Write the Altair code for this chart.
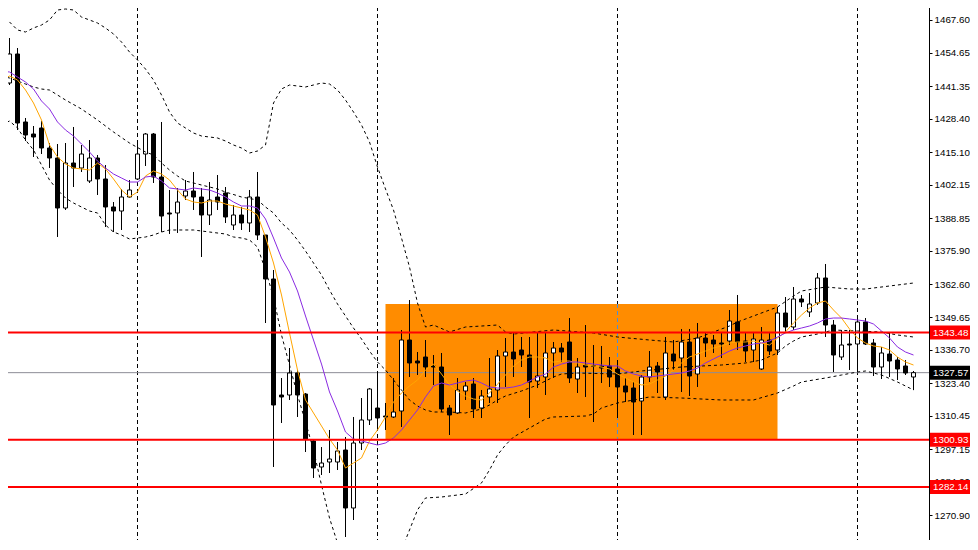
import altair as alt
import pandas as pd

# ---------------- data ----------------
bar_index = list(range(115))

opens = [1442.19, 1442.58, 1454.10, 1427.10, 1422.33, 1424.72, 1416.78, 1412.80, 1392.95, 1410.82,
         1408.83, 1403.67, 1412.80, 1404.47, 1393.35, 1391.76, 1397.32, 1404.47, 1414.39, 1422.33,
         1405.26, 1390.97, 1390.97, 1397.72, 1399.70, 1397.32, 1390.17, 1397.32, 1398.91, 1386.20,
         1390.17, 1387.00, 1397.32, 1382.23, 1364.76, 1318.70, 1318.70, 1327.44, 1319.10, 1300.44,
         1290.12, 1292.10, 1292.10, 1296.86, 1273.84, 1299.64, 1308.78, 1313.54, 1310.37, 1309.97,
         1312.35, 1340.54, 1332.20, 1333.79, 1330.22, 1329.82, 1313.54, 1311.56, 1320.29, 1323.07,
         1313.54, 1317.91, 1320.69, 1334.19, 1335.77, 1336.57, 1334.58, 1324.26, 1325.85, 1335.38,
         1337.36, 1339.75, 1325.05, 1330.61, 1330.30, 1330.22, 1330.22, 1329.03, 1322.28, 1321.48,
         1316.32, 1325.85, 1330.22, 1317.91, 1334.98, 1333.39, 1339.75, 1327.04, 1341.33, 1340.54,
         1339.35, 1340.14, 1347.69, 1340.14, 1336.57, 1329.03, 1340.54, 1336.57, 1351.26, 1345.70,
         1356.82, 1351.66, 1355.23, 1365.16, 1346.49, 1333.79, 1338.95, 1338.95, 1347.69, 1339.35,
         1329.82, 1334.98, 1332.60, 1330.22, 1325.85]

highs = [1450.92, 1460.45, 1456.48, 1428.69, 1425.51, 1427.50, 1418.76, 1418.36, 1418.76, 1425.12,
         1417.97, 1419.95, 1414.00, 1410.02, 1395.33, 1400.50, 1404.07, 1419.16, 1422.73, 1422.73,
         1427.10, 1400.10, 1400.89, 1404.07, 1407.25, 1400.89, 1403.27, 1406.05, 1401.29, 1394.14,
         1393.35, 1400.10, 1407.25, 1382.23, 1368.33, 1325.45, 1337.36, 1328.63, 1319.50, 1300.83,
         1298.05, 1304.81, 1300.04, 1302.03, 1309.97, 1317.51, 1321.48, 1328.23, 1315.53, 1325.45,
         1344.51, 1356.42, 1335.77, 1340.54, 1334.58, 1335.38, 1314.73, 1325.45, 1323.86, 1325.45,
         1320.69, 1333.39, 1336.57, 1341.33, 1343.32, 1341.73, 1341.73, 1343.32, 1343.32, 1339.75,
         1339.35, 1349.27, 1333.39, 1346.49, 1338.55, 1338.16, 1333.79, 1332.60, 1325.45, 1323.86,
         1326.64, 1336.17, 1331.80, 1341.73, 1340.54, 1344.91, 1344.91, 1347.29, 1343.32, 1342.53,
         1343.32, 1352.45, 1358.41, 1343.32, 1343.72, 1345.70, 1343.72, 1353.64, 1357.61, 1361.58,
         1358.41, 1359.20, 1367.14, 1370.72, 1348.48, 1344.51, 1344.51, 1349.27, 1349.27, 1340.94,
         1337.76, 1343.32, 1333.79, 1332.60, 1328.23]

lows = [1437.82, 1441.79, 1423.92, 1419.56, 1413.20, 1414.39, 1408.83, 1381.44, 1392.16, 1401.29,
        1407.25, 1402.88, 1398.12, 1385.41, 1383.42, 1384.22, 1396.92, 1404.07, 1409.63, 1402.88,
        1383.42, 1382.63, 1383.03, 1396.13, 1392.16, 1373.50, 1386.20, 1392.16, 1387.00, 1384.22,
        1384.22, 1383.42, 1380.25, 1347.29, 1290.12, 1307.59, 1316.72, 1309.97, 1296.07, 1285.75,
        1286.94, 1287.73, 1288.92, 1262.32, 1269.07, 1296.86, 1306.79, 1304.81, 1304.81, 1309.57,
        1306.00, 1325.85, 1326.64, 1325.85, 1322.67, 1311.95, 1302.82, 1311.16, 1316.72, 1309.57,
        1309.57, 1315.53, 1315.53, 1321.88, 1325.85, 1329.82, 1309.57, 1321.48, 1318.70, 1325.45,
        1331.80, 1323.47, 1319.50, 1317.91, 1307.98, 1323.47, 1321.88, 1309.57, 1315.93, 1302.82,
        1302.82, 1323.86, 1319.50, 1316.72, 1328.63, 1319.90, 1318.31, 1321.88, 1333.79, 1335.38,
        1333.39, 1338.55, 1336.57, 1331.80, 1331.80, 1328.63, 1334.58, 1334.58, 1343.72, 1344.51,
        1353.64, 1349.67, 1354.44, 1341.73, 1327.83, 1332.60, 1328.63, 1327.83, 1338.55, 1326.25,
        1325.05, 1325.85, 1324.66, 1326.64, 1320.69]

closes = [1443.78, 1454.10, 1426.70, 1421.94, 1421.14, 1416.78, 1412.80, 1392.95, 1410.82, 1408.83,
          1414.39, 1412.80, 1404.47, 1393.35, 1391.76, 1397.32, 1400.10, 1414.39, 1422.33, 1405.26,
          1389.77, 1390.57, 1395.33, 1399.70, 1397.32, 1390.17, 1396.13, 1395.33, 1389.38, 1390.17,
          1387.00, 1397.32, 1382.23, 1364.76, 1314.73, 1317.91, 1327.44, 1318.70, 1301.23, 1289.72,
          1291.70, 1293.29, 1296.47, 1273.84, 1299.64, 1308.78, 1321.09, 1309.57, 1309.97, 1311.95,
          1340.54, 1331.41, 1331.41, 1329.82, 1329.82, 1313.15, 1310.77, 1320.69, 1322.28, 1313.15,
          1318.31, 1321.09, 1334.19, 1335.77, 1333.00, 1334.58, 1323.86, 1326.25, 1335.38, 1337.36,
          1335.77, 1325.45, 1329.82, 1329.82, 1330.10, 1329.42, 1325.85, 1321.88, 1319.90, 1315.93,
          1325.85, 1329.82, 1327.83, 1335.38, 1332.20, 1339.75, 1326.25, 1341.33, 1339.35, 1338.95,
          1338.95, 1348.08, 1339.75, 1336.17, 1340.94, 1340.54, 1336.17, 1351.26, 1345.70, 1356.82,
          1355.63, 1354.83, 1365.16, 1346.49, 1334.58, 1338.55, 1338.55, 1347.69, 1338.95, 1329.82,
          1335.38, 1332.20, 1329.03, 1327.44, 1327.57]

ma_fast = [1443.78, 1445.36, 1443.78, 1439.80, 1434.64, 1427.89, 1417.97, 1413.20, 1410.42, 1408.83,
           1408.44, 1408.04, 1410.82, 1408.44, 1404.47, 1400.10, 1397.32, 1399.30, 1405.66, 1407.64,
           1406.45, 1404.07, 1400.10, 1396.53, 1395.33, 1394.94, 1395.73, 1395.73, 1394.54, 1393.75,
           1392.95, 1392.16, 1390.17, 1381.44, 1371.11, 1358.41, 1343.32, 1328.63, 1316.72, 1311.56,
           1306.40, 1301.23, 1296.86, 1289.72, 1291.70, 1293.69, 1300.44, 1304.81, 1309.97, 1315.93,
           1319.50, 1322.28, 1324.66, 1328.63, 1330.99, 1327.04, 1322.67, 1320.29, 1318.31, 1317.12,
           1316.72, 1319.50, 1322.97, 1326.64, 1330.22, 1332.60, 1333.79, 1333.79, 1333.39, 1331.80,
           1332.20, 1332.20, 1331.41, 1330.61, 1330.22, 1329.82, 1329.03, 1327.04, 1325.45, 1323.86,
           1322.67, 1323.07, 1324.66, 1326.25, 1328.63, 1331.41, 1333.79, 1334.98, 1336.17, 1337.36,
           1338.16, 1339.35, 1339.75, 1339.75, 1340.14, 1339.35, 1338.55, 1341.33, 1343.72, 1347.29,
           1350.46, 1353.24, 1355.23, 1356.03, 1352.45, 1349.27, 1344.91, 1341.33, 1339.35, 1338.16,
           1337.76, 1336.57, 1333.79, 1331.80, 1330.61]

ma_slow = [1447.35, 1446.95, 1444.97, 1442.98, 1440.20, 1435.44, 1432.26, 1427.10, 1423.92, 1421.54,
           1418.36, 1415.19, 1411.61, 1408.83, 1406.45, 1404.86, 1403.27, 1403.27, 1405.26, 1405.66,
           1403.67, 1400.89, 1400.50, 1400.10, 1400.89, 1400.50, 1400.10, 1398.91, 1397.32, 1395.33,
           1393.75, 1393.75, 1392.95, 1388.58, 1381.04, 1373.10, 1367.54, 1360.00, 1350.07, 1340.54,
           1330.99, 1319.90, 1312.35, 1304.01, 1301.23, 1300.44, 1299.64, 1298.85, 1299.64, 1301.63,
           1304.81, 1308.78, 1312.75, 1317.91, 1322.28, 1323.47, 1322.67, 1323.47, 1324.26, 1324.66,
           1323.47, 1321.88, 1321.48, 1321.48, 1321.88, 1322.67, 1324.26, 1325.85, 1327.04, 1329.82,
           1330.99, 1331.80, 1331.80, 1331.41, 1330.99, 1330.61, 1330.22, 1330.22, 1328.23, 1327.04,
           1326.25, 1325.85, 1326.25, 1326.64, 1327.04, 1327.44, 1328.23, 1329.42, 1331.41, 1333.00,
           1334.58, 1336.17, 1337.36, 1338.16, 1338.95, 1339.35, 1340.14, 1341.73, 1343.32, 1344.51,
           1345.30, 1346.10, 1347.29, 1348.88, 1349.27, 1349.27, 1348.88, 1348.48, 1348.08, 1346.89,
           1344.11, 1341.33, 1337.76, 1335.77, 1334.58]

band_upper = [(0, 1470.38), (1, 1466.81), (2, 1463.63), (3, 1462.83), (4, 1464.42), (5, 1465.61),
              (6, 1467.60), (7, 1471.57), (8, 1471.97), (9, 1471.57), (10, 1468.79), (11, 1467.60),
              (12, 1466.41), (13, 1464.42), (14, 1462.04), (15, 1458.86), (16, 1454.89), (17, 1451.72),
              (18, 1448.14), (19, 1443.78), (20, 1437.82), (21, 1431.07), (22, 1426.70), (23, 1424.72),
              (24, 1422.73), (25, 1421.54), (26, 1421.14), (27, 1420.75), (28, 1419.56), (29, 1417.97),
              (30, 1416.78), (31, 1414.79), (32, 1415.58), (33, 1417.97), (34, 1434.64), (35, 1440.20),
              (36, 1441.79), (37, 1441.39), (38, 1441.00), (39, 1441.79), (40, 1442.58), (41, 1442.19),
              (42, 1439.80), (43, 1435.83), (44, 1431.07), (45, 1425.91), (46, 1419.16), (47, 1409.23),
              (48, 1400.50), (49, 1392.16), (50, 1381.04), (51, 1369.53), (52, 1355.23), (53, 1345.70),
              (54, 1346.49), (56, 1343.72), (58, 1345.70), (62, 1346.49), (63, 1343.72), (64, 1342.92),
              (69, 1344.51), (74, 1343.32), (77, 1341.73), (81, 1340.54), (84, 1339.75), (87, 1341.33),
              (89, 1343.72), (91, 1346.10), (92, 1347.69), (94, 1350.07), (97, 1353.64), (99, 1358.01),
              (100, 1360.00), (103, 1361.58), (106, 1360.79), (108, 1360.79), (111, 1361.98), (114, 1363.17)]

band_middle = [(0, 1445.36), (1, 1444.57), (2, 1443.38), (3, 1442.19), (4, 1441.00), (5, 1440.20),
               (6, 1439.80), (8, 1435.83), (10, 1432.26), (12, 1427.89), (14, 1423.13), (16, 1418.76),
               (18, 1415.19), (19, 1414.00), (20, 1410.82), (21, 1408.04), (22, 1405.66), (23, 1403.67),
               (25, 1402.08), (27, 1400.50), (28, 1399.30), (30, 1397.32), (32, 1396.13), (33, 1393.35),
               (34, 1390.97), (35, 1387.00), (36, 1384.22), (37, 1380.25), (38, 1375.88), (39, 1371.11),
               (40, 1366.35), (41, 1360.39), (42, 1354.83), (43, 1350.07), (44, 1345.30), (45, 1340.94),
               (46, 1336.17), (47, 1331.80), (48, 1328.63), (49, 1324.66), (50, 1320.69), (51, 1316.72),
               (52, 1314.34), (53, 1312.75), (54, 1311.95), (56, 1311.95), (58, 1311.56), (60, 1313.15),
               (61, 1314.73), (62, 1316.72), (63, 1318.31), (65, 1320.29), (67, 1322.67), (68, 1324.26),
               (69, 1325.85), (70, 1327.04), (72, 1327.44), (77, 1327.04), (80, 1328.23), (85, 1329.82),
               (90, 1330.61), (93, 1331.41), (95, 1332.60), (97, 1335.38), (98, 1338.16), (99, 1340.14),
               (100, 1341.73), (102, 1342.92), (104, 1344.51), (107, 1344.11), (110, 1343.72),
               (112, 1342.53), (114, 1341.73)]

band_lower = [(0, 1425.91), (1, 1427.50), (2, 1424.72), (3, 1419.95), (4, 1415.98), (5, 1410.02),
              (6, 1404.07), (7, 1400.10), (8, 1396.92), (9, 1394.94), (10, 1393.35), (11, 1391.76),
              (12, 1390.97), (13, 1386.20), (14, 1383.42), (15, 1382.23), (16, 1380.64), (17, 1381.04),
              (18, 1381.44), (19, 1382.23), (20, 1383.42), (21, 1384.22), (24, 1384.22), (26, 1383.42),
              (28, 1382.63), (29, 1381.44), (30, 1381.04), (31, 1380.25), (32, 1377.47), (33, 1368.33),
              (34, 1357.61), (35, 1342.53), (36, 1330.61), (37, 1318.70), (38, 1307.98), (39, 1296.86),
              (40, 1282.96), (41, 1269.86), (42, 1259.94), (43, 1251.20), (44, 1245.25), (45, 1241.27),
              (46, 1241.27), (47, 1243.27), (48, 1247.24), (49, 1252.39), (50, 1257.16), (51, 1265.10),
              (52, 1273.04), (53, 1277.81), (55, 1278.20), (58, 1279.39), (60, 1283.77), (61, 1288.92),
              (62, 1294.88), (63, 1298.85), (64, 1302.03), (66, 1305.60), (68, 1309.17), (69, 1309.97),
              (73, 1310.37), (74, 1311.16), (75, 1313.54), (77, 1315.53), (81, 1317.91), (85, 1317.51),
              (90, 1316.72), (94, 1316.72), (97, 1319.50), (99, 1322.28), (100, 1323.86), (103, 1325.45),
              (105, 1326.64), (107, 1327.83), (108, 1328.23), (110, 1326.64), (112, 1323.86), (114, 1320.69)]

red_levels = [1343.48, 1300.93, 1282.14]
current_price = 1327.57
zone = {"start": 48, "end": 97, "top": 1354.83, "bottom": 1300.93}
grid_bars = [17, 47, 77, 107]
tick_values = [1467.60, 1454.65, 1441.35, 1428.40, 1415.10, 1402.15, 1388.85, 1375.90, 1362.60,
               1349.65, 1336.70, 1323.40, 1310.45, 1297.15, 1284.20, 1270.90, 1257.95]
price_top, price_bottom = 1475.54, 1257.16

# ---------------- tables ----------------
bars = pd.DataFrame({"i": bar_index, "open": opens, "high": highs, "low": lows, "close": closes})
ma = pd.DataFrame({"i": bar_index, "fast": ma_fast, "slow": ma_slow})
bands = pd.concat([
    pd.DataFrame(band_upper, columns=["i", "v"]).assign(band="upper"),
    pd.DataFrame(band_middle, columns=["i", "v"]).assign(band="middle"),
    pd.DataFrame(band_lower, columns=["i", "v"]).assign(band="lower"),
])
zone_df = pd.DataFrame([zone])
grid_df = pd.DataFrame({"i": grid_bars})
levels_df = pd.DataFrame({"price": red_levels})
labels_df = pd.DataFrame({
    "price": red_levels + [current_price],
    "label": [f"{p:.2f}" for p in red_levels] + [f"{current_price:.2f}"],
    "kind": ["level"] * len(red_levels) + ["current"],
})

FONT = "Liberation Sans"
PLOT_W = 929
x_scale = alt.Scale(domain=[-1.5 / 8, (PLOT_W - 1.5) / 8], nice=False, zero=False, padding=0)
y_scale = alt.Scale(domain=[price_bottom, price_top], nice=False, zero=False, padding=0)
y_axis = alt.Axis(orient="right", values=tick_values, format=".2f", grid=False, title=None,
                  labelFont=FONT, labelFontSize=9.8, labelColor="black", tickColor="black",
                  domainColor="black", tickSize=3, labelPadding=2, labelFlush=False,
                  labelOverlap=False, labelBaseline="middle")


def X(field):
    return alt.X(field, type="quantitative", scale=x_scale, axis=None)


def Y(field):
    return alt.Y(field, type="quantitative", scale=y_scale, axis=y_axis)


grid = alt.Chart(grid_df).mark_rule(color="black", strokeDash=[4, 3], strokeWidth=1).encode(x=X("i"))

box = alt.Chart(zone_df).mark_rect(color="#ff8c00").encode(
    x=X("start"), x2="end", y=Y("top"), y2="bottom")

grid_in_box = alt.Chart(zone_df.assign(i=77)).mark_rule(
    color="#4a8fd8", strokeDash=[4, 3], strokeWidth=1).encode(x=X("i"), y=Y("top"), y2="bottom")

cur_line = alt.Chart(pd.DataFrame({"price": [current_price]})).mark_rule(
    color="#8c8c96", strokeWidth=1).encode(y=Y("price"))

wicks = alt.Chart(bars).mark_rule(color="black", strokeWidth=1).encode(
    x=X("i"), y=Y("low"), y2="high")

bodies = alt.Chart(bars).mark_bar(size=4, stroke="black", strokeWidth=1).encode(
    x=X("i"), y=Y("open"), y2="close",
    fill=alt.condition("datum.close >= datum.open", alt.value("white"), alt.value("black")))

band_lines = alt.Chart(bands).mark_line(
    color="black", strokeWidth=1, strokeDash=[3, 3], clip=True).encode(
    x=X("i"), y=Y("v"), detail="band:N")

fast_line = alt.Chart(ma).mark_line(color="#ffa500", strokeWidth=1, clip=True).encode(
    x=X("i"), y=Y("fast"))
slow_line = alt.Chart(ma).mark_line(color="#8a2be2", strokeWidth=1, clip=True).encode(
    x=X("i"), y=Y("slow"))

red_lines = alt.Chart(levels_df).mark_rule(color="#ff0000", strokeWidth=2).encode(y=Y("price"))

label_boxes = alt.Chart(labels_df).mark_rect(yOffset=-7, y2Offset=7).encode(
    x=alt.value(PLOT_W + 1), x2=alt.value(PLOT_W + 41), y=Y("price"), y2="price",
    color=alt.Color("kind:N", scale=alt.Scale(domain=["level", "current"],
                                              range=["#ff0000", "#000000"]), legend=None))

label_text = alt.Chart(labels_df).mark_text(
    align="left", baseline="middle", color="white", font=FONT, fontSize=9.8).encode(
    x=alt.value(PLOT_W + 4), y=Y("price"), text="label:N")

chart = alt.layer(
    grid, box, grid_in_box, cur_line, wicks, bodies, band_lines, fast_line, slow_line,
    red_lines, label_boxes, label_text
).properties(
    width=PLOT_W, height=550,
    autosize=alt.AutoSizeParams(type="none"),
    padding={"left": -8, "top": -8, "right": 970 - PLOT_W, "bottom": -10},
    background="white",
).configure_view(strokeWidth=0)

chart.save("out.html", embed_options={"renderer": "svg", "actions": False})
